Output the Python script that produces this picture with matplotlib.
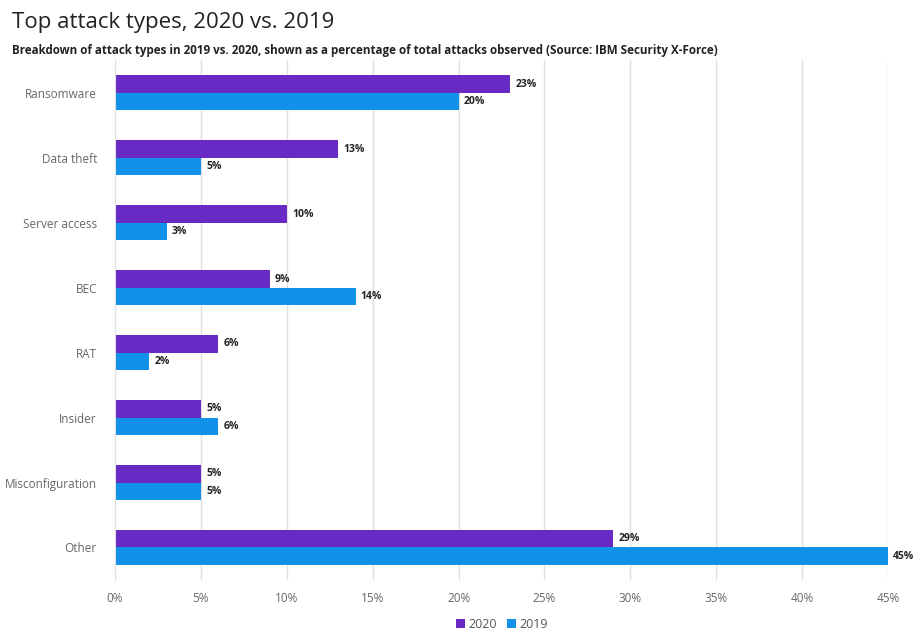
import numpy as np
import matplotlib.pyplot as plt

# Data
categories = ["Ransomware", "Data theft", "Server access", "BEC", "RAT",
              "Insider", "Misconfiguration", "Other"]
vals_2020 = [23, 13, 10, 9, 6, 5, 5, 29]
vals_2019 = [20, 5, 3, 14, 2, 6, 5, 45]

c2020 = "#6929c4"
c2019 = "#1192e8"

fig = plt.figure(figsize=(9.21, 6.34), dpi=100)
ax = fig.add_axes([0.1249, 0.0852, 0.8393, 0.8198])

y = np.arange(len(categories))
h = 0.265
ax.barh(y - h / 2, vals_2020, height=h, color=c2020, label="2020")
ax.barh(y + h / 2, vals_2019, height=h, color=c2019, label="2019")

for yi, v in zip(y, vals_2020):
    ax.text(v + 0.3, yi - h / 2, f"{v}%", va="center", ha="left",
            fontsize=7.5, fontweight="bold", color="#222222", family="Open Sans")
for yi, v in zip(y, vals_2019):
    ax.text(v + 0.3, yi + h / 2, f"{v}%", va="center", ha="left",
            fontsize=7.5, fontweight="bold", color="#222222", family="Open Sans")

ax.set_ylim(len(categories) - 0.5, -0.5)
ax.set_xlim(0, 45)
ax.set_yticks(y)
ax.set_yticklabels(categories)
xt = np.arange(0, 50, 5)
ax.set_xticks(xt)
ax.set_xticklabels([f"{t}%" for t in xt])
ax.tick_params(axis="both", length=0, labelsize=8.5, labelcolor="#666666")
ax.tick_params(axis="x", pad=9)
ax.tick_params(axis="y", pad=13)
for lab in ax.get_xticklabels() + ax.get_yticklabels():
    lab.set_family("Open Sans")
ax.grid(axis="x", color="#e0e0e0", linewidth=1)
ax.set_axisbelow(True)
for s in ["top", "right", "bottom"]:
    ax.spines[s].set_visible(False)
ax.spines["left"].set_color("#e0e0e0")

fig.text(0.013, 0.965, "Top attack types, 2020 vs. 2019", fontsize=16,
         color="#222222", va="center", family="Open Sans")
fig.text(0.013, 0.921, "Breakdown of attack types in 2019 vs. 2020, shown as a percentage "
         "of total attacks observed (Source: IBM Security X-Force)",
         fontsize=8.4, fontweight="bold", color="#222222", va="center", family="Open Sans")

leg = fig.legend(loc="center", bbox_to_anchor=(0.545, 0.015), ncol=2, frameon=False,
                 handlelength=0.7, handleheight=0.7, handletextpad=0.3, columnspacing=0.8,
                 prop={"family": "Open Sans", "size": 9})
for t in leg.get_texts():
    t.set_color("#555555")

fig.savefig("out.png", dpi=100)
